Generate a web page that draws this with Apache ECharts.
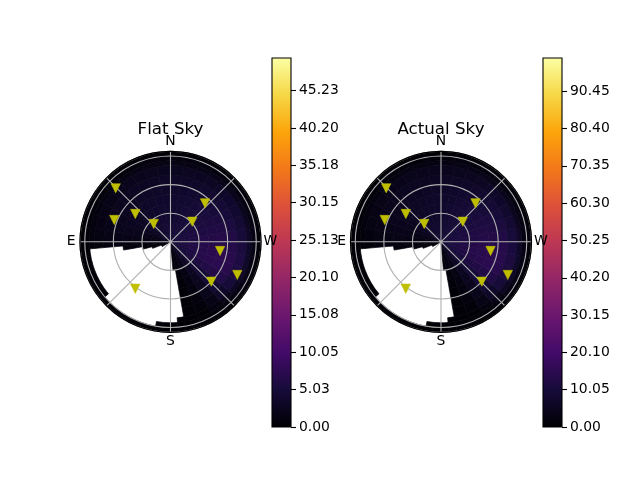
<!DOCTYPE html>
<html><head><meta charset="utf-8">
<script src="https://cdn.jsdelivr.net/npm/echarts@6/dist/echarts.min.js"></script>
<style>html,body{margin:0;padding:0;background:#fff}#c{width:640px;height:480px}</style>
</head><body><div id="c"></div>
<script>
var N = null;
// azimuth bin edges (deg, 0 = N, 90 = E), finer near the obstruction edges
var azEdges = [0,10,20,30,40,50,60,70,80,90,95,100,105,110,120,130,140,150,160,170,180,185,190,200,210,220,230,240,250,260,270,280,290,300,310,320,330,340,350,360];
// radial (zenith angle) bin edges
var ringEdges = [0,10,20,30,40,50,60,70,80,85,90,95];

var flatValues = [
 [4.6,4.6,4.5,4.4,4.2,3.8,3.2,2.6,2.0, 1.4,1.1,0.9,0.7,0.6, N,N,N,N,N,N,N, 0.8,1.5,2.5,3.3,4.0,4.5,4.8,5.0,5.0,5.0,5.0,5.0,5.0,4.9,4.8,4.7,4.7,4.6],
 [4.4,4.4,4.3,4.1,3.8,3.3,2.7,2.0,1.4, 1.0,0.8,0.6,0.5, N,N,N,N,N,N,N,N, 0.5,1.1,2.1,3.2,4.2,5.0,5.4,5.6,5.6,5.5,5.4,5.3,5.1,5.0,4.9,4.8,4.6,4.5],
 [4.2,4.1,4.0,3.8,3.5,3.1,2.6,2.0,1.5, 1.0,0.7,0.5, N,N,N,N,N,N,N,N,N, 0.4,0.9,1.8,3.0,4.4,5.5,6.0,6.2,6.1,5.9,5.7,5.5,5.3,5.1,4.9,4.7,4.5,4.3],
 [4.0,3.9,3.7,3.5,3.3,3.0,2.6,2.1,1.7, 1.2,0.8, N,N,N,N,N,N,N,N,N,N,N, 0.6,1.5,2.8,4.5,5.9,6.6,6.7,6.6,6.3,6.0,5.7,5.4,5.1,4.8,4.6,4.3,4.1],
 [3.8,3.7,3.5,3.3,3.1,2.8,2.5,2.2,1.8, 1.2,0.8, N,N,N,N,N,N,N,N,N,N,N, 0.5,1.2,2.6,4.6,6.3,7.0,7.1,6.9,6.5,6.1,5.7,5.3,5.0,4.6,4.3,4.0,3.9],
 [3.5,3.4,3.2,3.1,2.9,2.7,2.4,2.1,1.8, 1.2, N,N,N,N,N,N,N,N,N,N,N,N, 0.4,1.0,2.4,4.6,6.5,7.3,7.4,7.1,6.6,6.1,5.6,5.1,4.7,4.3,4.0,3.7,3.6],
 [3.1,3.0,2.9,2.8,2.6,2.4,2.2,1.9,1.6, 1.0, N,N,N,N,N,N,N,N,N,N,N,N, 0.3,0.8,2.1,4.3,6.3,7.1,7.1,6.8,6.2,5.6,5.1,4.6,4.2,3.8,3.5,3.3,3.2],
 [2.5,2.4,2.3,2.2,2.1,1.9,1.7,1.5,1.2, 0.8, N,N,N,N,N,N,N,N,N,N,N,N, 0.3,0.6,1.6,3.4,5.0,5.7,5.8,5.5,5.0,4.5,4.1,3.7,3.3,3.0,2.8,2.6,2.5],
 [1.6,1.5,1.5,1.4,1.3,1.2,1.1,1.0,0.8, 0.5, N,N,N,N,N,N,N,N,N,N,N, 0.2,0.2,0.4,1.0,2.0,3.0,3.5,3.6,3.4,3.1,2.8,2.5,2.3,2.1,2.0,1.8,1.7,1.6],
 [0.8,0.8,0.7,0.7,0.7,0.6,0.6,0.5,0.5, 0.4,0.3,0.3,0.3,0.3,0.3, N,N,N,N, 0.2,0.2,0.2, 0.2,0.3,0.6,1.1,1.5,1.7,1.7,1.6,1.5,1.4,1.3,1.2,1.1,1.0,1.0,0.9,0.9],
 [0.3,0.3,0.3,0.3,0.3,0.3,0.3,0.3,0.3, 0.2,0.2,0.2,0.2,0.2,0.2,0.2,0.2,0.2,0.2,0.2,0.2,0.2, 0.2,0.2,0.4,0.5,0.6,0.7,0.7,0.7,0.7,0.6,0.6,0.5,0.5,0.4,0.4,0.3,0.3]
];

var actualValues = [
 [8.4,8.4,8.2,8.0,7.6,6.8,5.8,4.7,3.6, 2.5,2.0,1.6,1.3,1.1, N,N,N,N,N,N,N, 1.5,2.8,4.8,6.4,7.8,8.8,9.4,9.8,9.9,9.9,9.9,9.8,9.7,9.6,9.4,9.2,9.0,8.7],
 [8.0,7.9,7.7,7.4,6.9,6.0,4.9,3.6,2.5, 1.8,1.4,1.1,0.9, N,N,N,N,N,N,N,N, 1.0,2.1,4.1,6.3,8.3,9.8,10.7,11.1,11.1,10.9,10.7,10.4,10.0,9.8,9.5,9.2,8.8,8.4],
 [7.6,7.4,7.2,6.8,6.3,5.6,4.7,3.6,2.7, 1.8,1.3,0.9, N,N,N,N,N,N,N,N,N, 0.8,1.8,3.5,5.9,8.7,10.9,11.9,12.3,12.1,11.7,11.3,10.9,10.4,10.0,9.6,9.1,8.6,8.0],
 [7.2,7.0,6.7,6.3,5.9,5.4,4.7,3.8,3.1, 2.2,1.4, N,N,N,N,N,N,N,N,N,N,N, 1.2,2.9,5.5,8.9,11.7,13.1,13.3,13.1,12.5,11.9,11.3,10.7,10.1,9.5,8.9,8.2,7.6],
 [6.8,6.7,6.3,5.9,5.6,5.0,4.5,4.0,3.2, 2.2,1.4, N,N,N,N,N,N,N,N,N,N,N, 1.0,2.4,5.1,9.1,12.5,13.9,14.1,13.7,12.9,12.1,11.3,10.5,9.9,9.1,8.4,7.7,7.2],
 [6.3,6.1,5.8,5.6,5.2,4.9,4.3,3.8,3.2, 2.2, N,N,N,N,N,N,N,N,N,N,N,N, 0.8,2.0,4.7,9.1,12.9,14.5,14.7,14.1,13.1,12.1,11.1,10.1,9.3,8.5,7.8,7.2,6.7],
 [5.6,5.4,5.2,5.0,4.7,4.3,4.0,3.4,2.9, 1.8, N,N,N,N,N,N,N,N,N,N,N,N, 0.6,1.6,4.2,8.5,12.5,14.1,14.1,13.5,12.3,11.1,10.1,9.1,8.3,7.5,6.9,6.4,6.0],
 [4.5,4.3,4.1,4.0,3.8,3.4,3.1,2.7,2.2, 1.4, N,N,N,N,N,N,N,N,N,N,N,N, 0.5,1.2,3.2,6.7,9.9,11.3,11.5,10.9,9.9,8.9,8.1,7.3,6.5,5.9,5.4,5.0,4.7],
 [2.9,2.7,2.7,2.5,2.3,2.2,2.0,1.8,1.4, 0.9, N,N,N,N,N,N,N,N,N,N,N, 0.4,0.4,0.8,2.0,4.0,5.9,6.9,7.1,6.7,6.1,5.5,4.9,4.5,4.1,3.9,3.5,3.3,3.1],
 [1.4,1.4,1.3,1.3,1.3,1.1,1.1,0.9,0.9, 0.7,0.6,0.6,0.6,0.6,0.6, N,N,N,N, 0.4,0.4,0.4, 0.4,0.6,1.2,2.2,3.0,3.3,3.3,3.1,2.9,2.7,2.5,2.3,2.1,2.0,1.9,1.8,1.7],
 [0.6,0.6,0.6,0.6,0.6,0.6,0.6,0.6,0.6, 0.4,0.4,0.4,0.4,0.4,0.4,0.4,0.4,0.4,0.4,0.4,0.4,0.4, 0.4,0.4,0.8,1.0,1.2,1.4,1.4,1.4,1.3,1.2,1.1,1.0,0.9,0.8,0.8,0.7,0.6]
];

var markerR  = [80.4, 54.3, 47.1, 63.3, 25.7, 31.1, 52.9, 78.3, 59.9, 61.6];
var markerAz = [45.7, 318.1, 51.7, 68.8, 43.3, 312.7, 259.5, 243.6, 225.6, 143.1];

var flatTicks   = [0, 5.03, 10.05, 15.08, 20.10, 25.13, 30.15, 35.18, 40.20, 45.23];
var actualTicks = [0, 10.05, 20.10, 30.15, 40.20, 50.25, 60.30, 70.35, 80.40, 90.45];
var flatMax = 49.6, actualMax = 99.4;
var titles = ['Flat Sky', 'Actual Sky'];
var compassLabels = {0: 'N', 90: '{e|E}', 180: 'S', 270: 'W'};
var inferno = ['#000004','#160b39','#420a68','#6a176e','#932667','#bc3754','#dd513a','#f37819','#fca50a','#f6d746','#fcffa4'];

function buildCells(values) {
  var out = [];
  for (var i = 0; i < ringEdges.length - 1; i++) {
    for (var j = 0; j < azEdges.length - 1; j++) {
      var v = values[i][j];
      if (v === null || v === undefined) continue;
      out.push([azEdges[j], azEdges[j + 1], ringEdges[i], ringEdges[i + 1], v]);
    }
  }
  return out;
}
function buildMarkers() {
  var out = [];
  for (var k = 0; k < markerR.length; k++) out.push([markerR[k], markerAz[k]]);
  return out;
}
function renderCell(params, api) {
  var cs = params.coordSys;
  var a0 = api.value(0), a1 = api.value(1), r0 = api.value(2), r1 = api.value(3);
  var pIn = api.coord([r0, a0]);
  var pOut0 = api.coord([r1, a0]);
  var pOut1 = api.coord([r1, a1]);
  var rin = Math.hypot(pIn[0] - cs.cx, pIn[1] - cs.cy);
  var rout = Math.hypot(pOut0[0] - cs.cx, pOut0[1] - cs.cy);
  var s = Math.atan2(pOut1[1] - cs.cy, pOut1[0] - cs.cx);
  var e = Math.atan2(pOut0[1] - cs.cy, pOut0[0] - cs.cx);
  if (e < s) e += 2 * Math.PI;
  var c = api.visual('color');
  return {
    type: 'sector',
    shape: {cx: cs.cx, cy: cs.cy, r0: rin, r: rout, startAngle: s, endAngle: e, clockwise: true},
    style: {fill: c, stroke: c, lineWidth: 0.7}
  };
}
function colorbarGradient() {
  var stops = [];
  for (var i = 0; i < inferno.length; i++) stops.push({offset: i / (inferno.length - 1), color: inferno[i]});
  return new echarts.graphic.LinearGradient(0, 1, 0, 0, stops);
}

var FONT = 'DejaVu Sans';
var polarCenters = [[170.5, 241.8], [441, 241.8]];
var barLefts = [272, 543];
var maxes = [flatMax, actualMax];
var ticks = [flatTicks, actualTicks];
var valueSets = [flatValues, actualValues];

var option = {
  animation: false,
  backgroundColor: '#ffffff',
  textStyle: {fontFamily: FONT},
  graphic: [],
  polar: [], angleAxis: [], radiusAxis: [],
  grid: [], xAxis: [], yAxis: [], visualMap: [], series: []
};

for (var k = 0; k < 2; k++) {
  option.graphic.push({
    type: 'text', x: polarCenters[k][0], y: 130,
    style: {text: titles[k], font: '16.7px "DejaVu Sans"', fill: '#000', align: 'center', verticalAlign: 'middle'}
  });
  option.polar.push({center: polarCenters[k], radius: [0, 90.5]});
  option.angleAxis.push({
    polarIndex: k, type: 'value', min: 0, max: 360, interval: 45,
    startAngle: 90, clockwise: false, z: 6,
    axisLine: {show: true, lineStyle: {color: '#000', width: 1.2}},
    axisTick: {show: false},
    axisLabel: {show: true, margin: 2.5, color: '#000', fontSize: 13.9, fontFamily: FONT,
      rich: {e: {fontSize: 13.9, fontFamily: FONT, color: '#000', padding: [0, 2, 0, 0]}},
      formatter: function (v) { return compassLabels[v] || ''; }},
    splitLine: {show: true, lineStyle: {color: '#b0b0b0', width: 1.1}}
  });
  option.radiusAxis.push({
    polarIndex: k, type: 'value', min: 0, max: 95, interval: 30, z: 5,
    axisLine: {show: false}, axisTick: {show: false}, axisLabel: {show: false},
    splitLine: {show: true, lineStyle: {color: '#b0b0b0', width: 1.1}}
  });
  option.grid.push({left: barLefts[k], top: 58, width: 19, height: 369, show: true,
    borderColor: '#000', borderWidth: 1.1, backgroundColor: 'transparent', z: 10});
  option.xAxis.push({gridIndex: k, type: 'category', data: ['cb'], show: false, boundaryGap: true});
  option.yAxis.push({
    gridIndex: k, type: 'value', position: 'right', min: 0, max: maxes[k], z: 10,
    axisLine: {show: false},
    axisTick: {show: true, length: 5, lineStyle: {color: '#000', width: 1.1}, customValues: ticks[k]},
    axisLabel: {show: true, customValues: ticks[k], margin: 8, color: '#000', fontSize: 13.9, fontFamily: FONT,
      formatter: function (v) { return Number(v).toFixed(2); }},
    splitLine: {show: false}
  });
  option.visualMap.push({
    type: 'continuous', seriesIndex: k, dimension: 4, min: 0, max: maxes[k],
    inRange: {color: inferno}, show: false
  });
}
for (var k2 = 0; k2 < 2; k2++) {
  option.series.push({
    type: 'custom', coordinateSystem: 'polar', polarIndex: k2, renderItem: renderCell,
    data: buildCells(valueSets[k2]), encode: {angle: 0, radius: 2}, z: 1, silent: true
  });
}
for (var k3 = 0; k3 < 2; k3++) {
  option.series.push({
    type: 'scatter', coordinateSystem: 'polar', polarIndex: k3, data: buildMarkers(),
    symbol: 'triangle', symbolRotate: 180, symbolSize: [9.5, 9.3],
    itemStyle: {color: '#bfbf00', opacity: 1, borderColor: '#bfbf00', borderWidth: 0.5}, z: 10, silent: true
  });
}
for (var k4 = 0; k4 < 2; k4++) {
  option.series.push({
    type: 'bar', xAxisIndex: k4, yAxisIndex: k4, data: [maxes[k4]], barWidth: '100%',
    itemStyle: {color: colorbarGradient()}, silent: true, z: 2
  });
}

var chart = echarts.init(document.getElementById('c'), null, {renderer: 'canvas'});
chart.setOption(option);
</script>
</body></html>
